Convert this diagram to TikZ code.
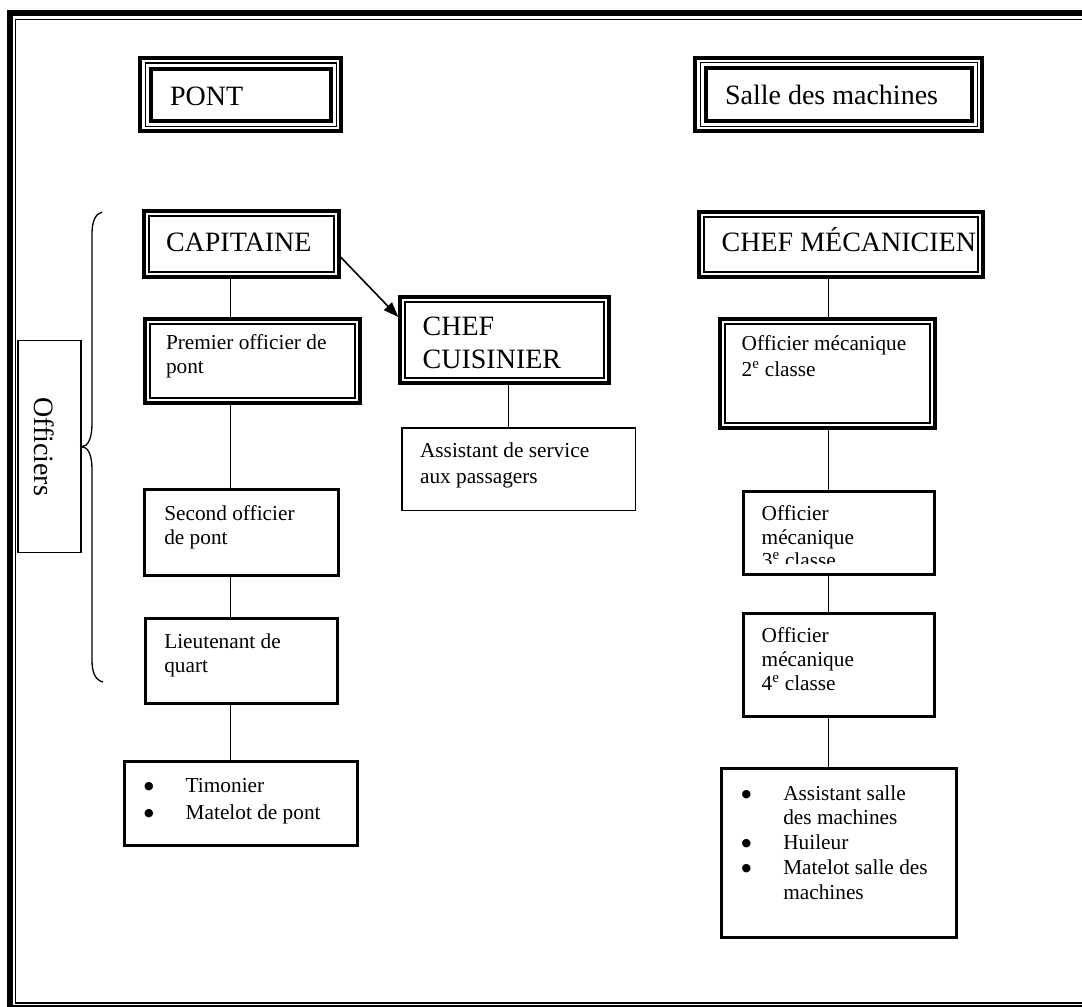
\documentclass[tikz,border=0pt]{standalone}
\usepackage{fontspec}
\setmainfont{Liberation Serif}
\newfontfamily\SymFont{DejaVu Sans}
\usetikzlibrary{arrows.meta}
\newcommand\FontBig{\fontsize{28pt}{33pt}\selectfont}
\newcommand\FontSmall{\fontsize{21.3pt}{24.5pt}\selectfont}
\newcommand\BoxText[3]{\makebox[#1][l]{\hspace*{#2}\vtop{#3}}}
\newcommand\BigBullet{\raisebox{2.8pt}{\SymFont\fontsize{11pt}{11pt}\selectfont ●}}
\begin{document}
\begin{tikzpicture}[x=1pt,y=-1pt,
  triplebox/.style={draw, line width=4pt, outer sep=2pt, inner sep=0pt, anchor=north west},
  dblbox/.style={draw, line width=4pt, outer sep=2pt, inner sep=0pt, anchor=north west},
  thickbox/.style={draw, line width=3pt, outer sep=1.5pt, inner sep=0pt, anchor=north west},
  thinbox/.style={draw, line width=1.5pt, outer sep=0.75pt, inner sep=0pt, anchor=north west},
  sidebox/.style={draw, line width=1.3pt, outer sep=0.65pt, inner sep=0pt},
  conn/.style={line width=1.5pt},
  arrowline/.style={line width=1.6pt, -{Triangle[length=15pt,width=11pt]}},
  bracepath/.style={line width=1.3pt},
  midrule/.style={line width=1.5pt},
  innerrule/.style={line width=4pt},
  dblinner/.style={line width=2pt}
]
\useasboundingbox (0,0) rectangle (1082,1007);
\clip (0,0) rectangle (1082,1007);

% outer frame (runs off the right edge)
\draw[line width=6pt] (1095,13) -- (9.8,13) -- (9.8,1008) -- (1095,1008);
\draw[line width=1.4pt] (1095,19.5) -- (15.3,19.5) -- (15.3,1003) -- (1095,1003);

% headers
\node (pont) [triplebox, font=\FontBig, text height=47pt, text depth=26.3pt] at (138.3,56)
  {\BoxText{201pt}{29.7pt}{\hbox{PONT}}};
\node (salle) [triplebox, font=\FontBig, text height=46.6pt, text depth=27pt] at (693.3,55.7)
  {\BoxText{287pt}{29.7pt}{\hbox{Salle des machines}}};

% left column
\node (cap) [dblbox, font=\FontBig, text height=39.7pt, text depth=26.3pt] at (141.7,209.3)
  {\BoxText{195pt}{22.3pt}{\hbox{CAPITAINE}}};
\node (prem) [dblbox, font=\FontSmall, text height=30.3pt, text depth=54pt] at (142.7,316.7)
  {\BoxText{215pt}{21.3pt}{\baselineskip=24.5pt \hbox{Premier officier de}\hbox{pont}}};
\node (sec) [thickbox, font=\FontSmall, text height=30.2pt, text depth=55.2pt] at (143.3,488.3)
  {\BoxText{193.7pt}{19.5pt}{\baselineskip=24pt \hbox{Second officier}\hbox{de pont}}};
\node (lieu) [thickbox, font=\FontSmall, text height=30.1pt, text depth=55.2pt] at (144,616.7)
  {\BoxText{192pt}{18.8pt}{\baselineskip=24pt \hbox{Lieutenant de}\hbox{quart}}};
\node (tim) [thickbox, font=\FontSmall, text height=30.8pt, text depth=52.9pt] at (122.7,760)
  {\BoxText{233.6pt}{19.8pt}{\baselineskip=26.7pt
   \hbox{\makebox[41.7pt][l]{\BigBullet}Timonier}
   \hbox{\makebox[41.7pt][l]{\BigBullet}Matelot de pont}}};

% side label and brace
\node (offs) [sidebox, rotate=-90, font=\FontBig, text height=46.6pt, text depth=16.5pt] at (49.5,446.5)
  {\makebox[211.7pt][c]{Officiers}};
\draw[bracepath] (102,212) .. controls (95,214) and (92,222) .. (92,234) -- (92,424)
  .. controls (92,438) and (88,446.7) .. (81.7,446.7)
  .. controls (88,446.7) and (92,455) .. (92,469) -- (92,660)
  .. controls (92,672) and (95,680) .. (103,682);

% middle column
\node (cuis) [dblbox, font=\FontBig, text height=38pt, text depth=48pt] at (398.3,295)
  {\BoxText{208.7pt}{22.4pt}{\baselineskip=33pt \hbox{CHEF}\hbox{CUISINIER}}};
\node (ass) [thinbox, font=\FontSmall, text height=29.5pt, text depth=53pt] at (401,427)
  {\BoxText{233.5pt}{18.3pt}{\baselineskip=26pt \hbox{Assistant de service}\hbox{aux passagers}}};

% right column
\node (mec) [dblbox, font=\FontBig, text height=39.7pt, text depth=25.3pt] at (696.7,210)
  {\BoxText{284.3pt}{23pt}{\hbox{CHEF MÉCANICIEN}}};
\node (om2) [dblbox, font=\FontSmall, text height=31.3pt, text depth=78pt] at (718.3,316.7)
  {\BoxText{215pt}{21.4pt}{\baselineskip=26pt \hbox{Officier mécanique}\hbox{2\textsuperscript{e} classe}}};
\node (om3) [thickbox, font=\FontSmall, text height=29.2pt, text depth=53.8pt] at (741.7,490)
  {\BoxText{191.3pt}{18.5pt}{\baselineskip=23.5pt \hbox{Officier}\hbox{mécanique}}};
\begin{scope}
  \clip (743,492) rectangle (934,563.8);
  \node (om3c) [anchor=base west, inner sep=0pt, font=\FontSmall] at (761.7,567.5) {3\textsuperscript{e} classe};
\end{scope}
\node (om4) [thickbox, font=\FontSmall, text height=29.3pt, text depth=74pt] at (741.7,611.7)
  {\BoxText{191.3pt}{18.5pt}{\baselineskip=24pt \hbox{Officier}\hbox{mécanique}\hbox{4\textsuperscript{e} classe}}};
\node (asm) [thickbox, font=\FontSmall, text height=31.8pt, text depth=137.5pt] at (720,766.7)
  {\BoxText{234.7pt}{20.2pt}{\baselineskip=24.8pt
   \hbox{\makebox[41.6pt][l]{\BigBullet}Assistant salle}
   \hbox{\hspace*{41.6pt}des machines}
   \hbox{\makebox[41.6pt][l]{\BigBullet}Huileur}
   \hbox{\makebox[41.6pt][l]{\BigBullet}Matelot salle des}
   \hbox{\hspace*{41.6pt}machines}}};

% extra border lines
\foreach \n in {pont,salle} {
  \draw[midrule] ([shift={(7,7)}]\n.north west) rectangle ([shift={(-7,-7)}]\n.south east);
  \draw[innerrule] ([shift={(12.5,12.5)}]\n.north west) rectangle ([shift={(-12.5,-12.5)}]\n.south east);
}
\foreach \n in {cap,prem,cuis,mec,om2} {
  \draw[dblinner] ([shift={(7,7)}]\n.north west) rectangle ([shift={(-7,-7)}]\n.south east);
}

% connectors
\coordinate (lc) at (230.7,0);
\coordinate (cc) at (508.3,0);
\coordinate (rc) at (828.3,0);
\draw[conn] (cap.south -| lc) -- (prem.north -| lc);
\draw[conn] (prem.south -| lc) -- (sec.north -| lc);
\draw[conn] (sec.south -| lc) -- (lieu.north -| lc);
\draw[conn] (lieu.south -| lc) -- (tim.north -| lc);
\draw[conn] (cuis.south -| cc) -- (ass.north -| cc);
\draw[conn] (mec.south -| rc) -- (om2.north -| rc);
\draw[conn] (om2.south -| rc) -- (om3.north -| rc);
\draw[conn] (om3.south -| rc) -- (om4.north -| rc);
\draw[conn] (om4.south -| rc) -- (asm.north -| rc);
\draw[arrowline] ([xshift=-3pt,yshift=-9.7pt]cap.east) -- ([yshift=23pt]cuis.west);
\end{tikzpicture}
\end{document}
